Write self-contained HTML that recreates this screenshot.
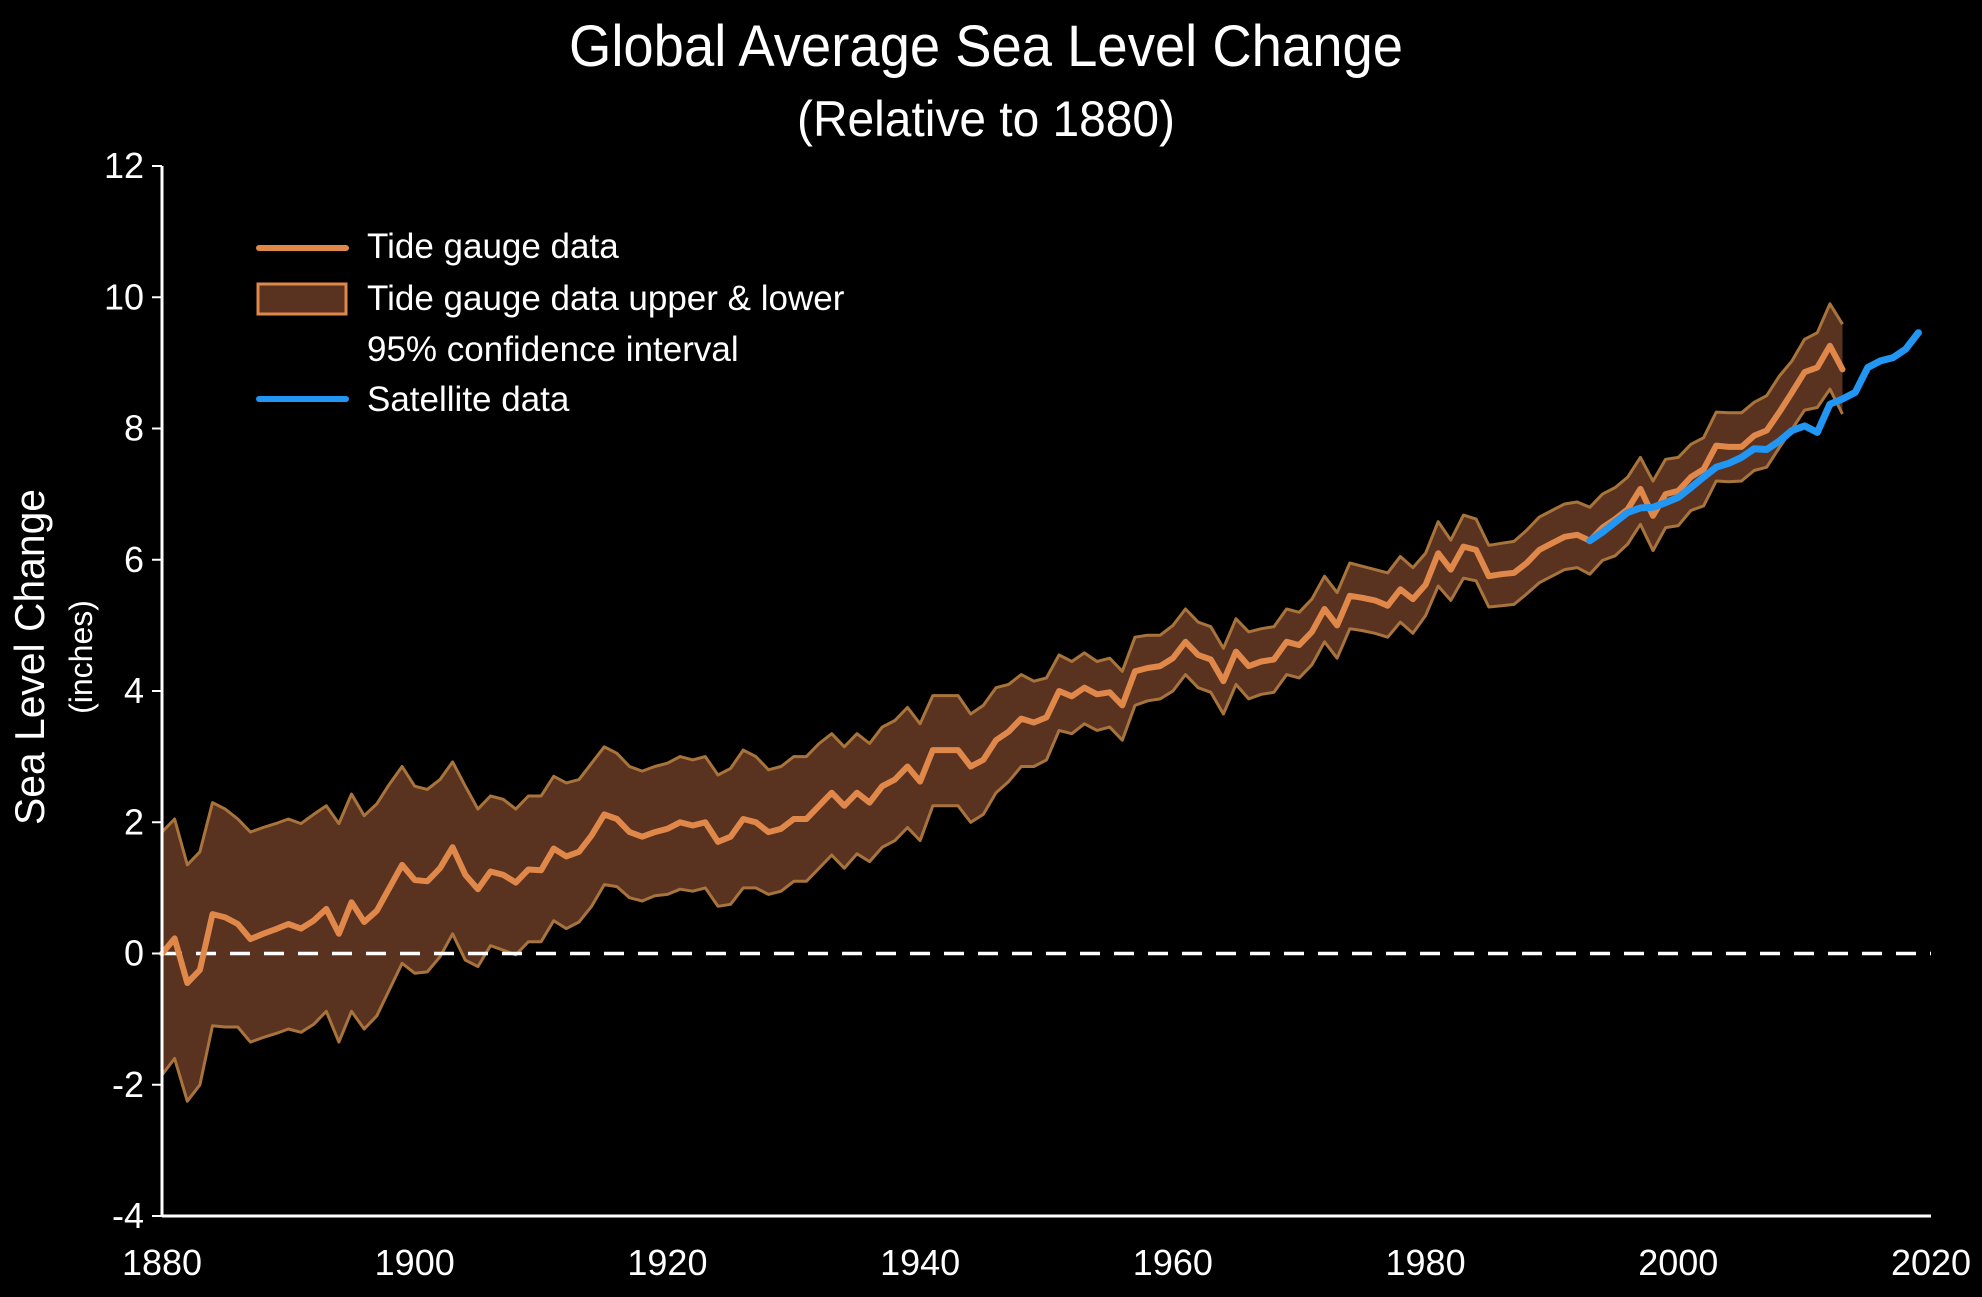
<!DOCTYPE html>
<html><head><meta charset="utf-8"><style>
html,body{margin:0;padding:0;background:#000;}
svg{display:block;}
text{font-family:"Liberation Sans Narrow","Liberation Sans",sans-serif;fill:#fff;}
</style></head><body>
<svg id="chart" width="1982" height="1297" viewBox="0 0 1982 1297" xmlns="http://www.w3.org/2000/svg">
<rect width="1982" height="1297" fill="#000"/>
<text x="986" y="66" font-size="58" text-anchor="middle" textLength="834" lengthAdjust="spacingAndGlyphs">Global Average Sea Level Change</text>
<text x="986" y="136" font-size="50" text-anchor="middle" textLength="378" lengthAdjust="spacingAndGlyphs">(Relative to 1880)</text>
<g id="plot"></g>
<text transform="translate(44,657) rotate(-90)" font-size="42" text-anchor="middle" textLength="336" lengthAdjust="spacingAndGlyphs">Sea Level Change</text>
<text transform="translate(92,657) rotate(-90)" font-size="32" text-anchor="middle">(inches)</text>
<g>
  <line x1="259" y1="248" x2="346" y2="248" stroke="#e0874a" stroke-width="6" stroke-linecap="round"/>
  <text x="367" y="258" font-size="35">Tide gauge data</text>
  <rect x="258" y="284" width="88" height="30" fill="#5a3220" stroke="#e0874a" stroke-width="3"/>
  <text x="367" y="310" font-size="35">Tide gauge data upper &amp; lower</text>
  <text x="367" y="361" font-size="35">95% confidence interval</text>
  <line x1="259" y1="399" x2="346" y2="399" stroke="#2196f3" stroke-width="6" stroke-linecap="round"/>
  <text x="367" y="411" font-size="35">Satellite data</text>
</g>
</svg>
<script>
const tideStart = 1880;
const tideMain = [0,0.23,-0.45,-0.25,0.6,0.55,0.45,0.22,0.3,0.37,0.45,0.38,0.5,0.68,0.3,0.78,0.48,0.65,1.0,1.35,
1.12,1.1,1.3,1.62,1.2,0.98,1.25,1.2,1.08,1.28,1.27,1.6,1.48,1.55,1.8,2.12,2.05,1.85,1.78,1.85,
1.9,2.0,1.95,2.0,1.7,1.78,2.05,2.0,1.85,1.9,2.05,2.05,2.25,2.45,2.25,2.45,2.3,2.55,2.65,2.85,
2.62,3.1,3.1,3.1,2.85,2.95,3.25,3.38,3.58,3.52,3.6,4.0,3.92,4.05,3.95,3.98,3.78,4.3,4.35,4.38,
4.5,4.75,4.55,4.48,4.15,4.6,4.38,4.45,4.48,4.75,4.7,4.9,5.25,5.0,5.45,5.42,5.38,5.3,5.55,5.4,
5.62,6.1,5.85,6.2,6.15,5.75,5.78,5.8,5.95,6.15,6.25,6.35,6.38,6.29,6.49,6.62,6.77,7.08,6.67,7.0,
7.05,7.26,7.38,7.74,7.72,7.72,7.89,7.97,8.25,8.55,8.86,8.93,9.26,8.9];
const tideUpper = [1.85,2.05,1.35,1.55,2.3,2.2,2.05,1.85,1.92,1.98,2.05,1.98,2.12,2.25,1.98,2.43,2.1,2.28,2.58,2.85,
2.55,2.5,2.65,2.92,2.55,2.2,2.4,2.35,2.2,2.4,2.4,2.7,2.6,2.65,2.9,3.15,3.05,2.85,2.78,2.85,
2.9,3.0,2.95,3.0,2.72,2.82,3.1,3.0,2.8,2.85,3.0,3.0,3.2,3.35,3.15,3.35,3.2,3.45,3.55,3.75,
3.5,3.93,3.93,3.93,3.65,3.78,4.05,4.1,4.25,4.15,4.2,4.55,4.45,4.58,4.45,4.5,4.3,4.82,4.85,4.85,
5.0,5.25,5.05,4.98,4.65,5.1,4.9,4.95,4.98,5.25,5.2,5.4,5.75,5.5,5.95,5.9,5.85,5.8,6.05,5.88,
6.1,6.58,6.3,6.68,6.62,6.22,6.25,6.28,6.45,6.65,6.75,6.85,6.88,6.8,7.0,7.1,7.26,7.56,7.2,7.53,
7.56,7.76,7.86,8.25,8.24,8.24,8.4,8.5,8.8,9.03,9.36,9.46,9.9,9.59];
const tideLower = [-1.85,-1.6,-2.25,-2.0,-1.1,-1.12,-1.12,-1.35,-1.28,-1.22,-1.15,-1.2,-1.08,-0.88,-1.35,-0.88,-1.15,-0.95,-0.55,-0.15,
-0.3,-0.28,-0.05,0.3,-0.1,-0.2,0.12,0.05,-0.02,0.18,0.18,0.5,0.38,0.48,0.72,1.05,1.02,0.85,0.8,0.88,
0.9,0.98,0.95,1.0,0.72,0.75,1.0,1.0,0.9,0.95,1.1,1.1,1.3,1.5,1.3,1.52,1.4,1.62,1.72,1.92,
1.72,2.25,2.25,2.25,2.0,2.12,2.45,2.62,2.85,2.85,2.95,3.4,3.35,3.5,3.4,3.45,3.25,3.78,3.85,3.88,
4.0,4.25,4.05,3.98,3.65,4.1,3.88,3.95,3.98,4.25,4.2,4.4,4.75,4.5,4.95,4.92,4.88,4.82,5.05,4.88,
5.15,5.6,5.38,5.72,5.68,5.28,5.3,5.32,5.48,5.65,5.75,5.85,5.88,5.78,5.99,6.06,6.24,6.54,6.14,6.49,
6.52,6.75,6.82,7.2,7.19,7.2,7.36,7.41,7.71,7.99,8.28,8.32,8.6,8.22];
const satStart = 1993;
const satValues = [6.29,6.42,6.57,6.72,6.79,6.8,6.87,6.95,7.1,7.26,7.41,7.47,7.56,7.69,7.68,7.81,7.97,8.04,7.94,8.37,8.45,8.55,8.93,9.03,9.08,9.21,9.46];
const xTicks = [1880,1900,1920,1940,1960,1980,2000,2020];
const yTicks = [-4,-2,0,2,4,6,8,10,12];

const NS = "http://www.w3.org/2000/svg";
const X0 = 162, X1 = 1931, Y0 = 1216, Y1 = 166;
const xMin = 1880, xMax = 2020, yMin = -4, yMax = 12;
function xs(v){ return X0 + (v - xMin) / (xMax - xMin) * (X1 - X0); }
function ys(v){ return Y0 - (v - yMin) / (yMax - yMin) * (Y0 - Y1); }
const plot = document.getElementById('plot');
function mk(tag, attrs){ const e = document.createElementNS(NS, tag); for (const k in attrs) e.setAttribute(k, attrs[k]); plot.appendChild(e); return e; }
function pts(arr, start){ return arr.map((v,i)=>xs(start+i).toFixed(1)+','+ys(v).toFixed(1)); }

// band
const up = pts(tideUpper, tideStart), lo = pts(tideLower, tideStart);
const band = mk('polygon', {points: up.concat(lo.slice().reverse()).join(' '), fill:'#5a3220'});


const upL = mk('polyline', {points: up.join(' '), fill:'none', stroke:'#a8743c', 'stroke-width':3, 'stroke-linejoin':'round'});


const loL = mk('polyline', {points: lo.join(' '), fill:'none', stroke:'#a8743c', 'stroke-width':3, 'stroke-linejoin':'round'});



// zero line
const zero = mk('line', {x1:X0, x2:X1, y1:ys(0), y2:ys(0), stroke:'#fff', 'stroke-width':3.5, 'stroke-dasharray':'20 14'});



const tide = mk('polyline', {points: pts(tideMain, tideStart).join(' '), fill:'none', stroke:'#e0874a', 'stroke-width':6, 'stroke-linejoin':'round', 'stroke-linecap':'round'});


const sat = mk('polyline', {points: pts(satValues, satStart).join(' '), fill:'none', stroke:'#2196f3', 'stroke-width':7, 'stroke-linejoin':'round', 'stroke-linecap':'round'});



// axes
const yAx = mk('line', {x1:X0, x2:X0, y1:Y1, y2:Y0, stroke:'#fff', 'stroke-width':3});


const xAx = mk('line', {x1:X0, x2:X1, y1:Y0, y2:Y0, stroke:'#fff', 'stroke-width':3});


yTicks.forEach(v=>{
  const t = mk('line', {x1:X0-10, x2:X0, y1:ys(v), y2:ys(v), stroke:'#fff', 'stroke-width':2});
  
  
  const l = mk('text', {x:X0-18, y:ys(v)+12, 'font-size':36, 'text-anchor':'end'});
  l.textContent = v;
  
  
});
xTicks.forEach(v=>{
  const l = mk('text', {x:xs(v), y:1275, 'font-size':36, 'text-anchor':'middle'});
  l.textContent = v;
  
  
});
</script>
</body></html>
